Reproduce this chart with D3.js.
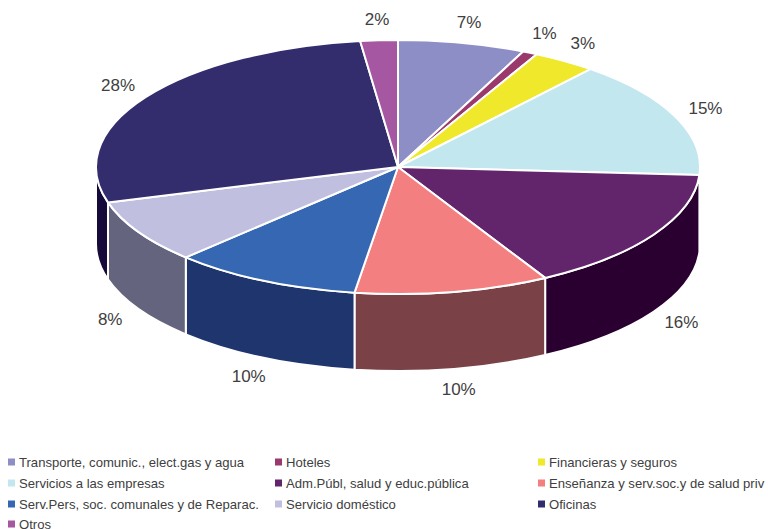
<!DOCTYPE html>
<html>
<head>
<meta charset="utf-8">
<script src="https://cdn.jsdelivr.net/npm/d3@7"></script>
<style>
  body { margin: 0; background: #fff; }
  text { font-family: "Liberation Sans", Arial, sans-serif; fill: #404040; }
</style>
</head>
<body>
<svg id="chart"></svg>
<script>
var width = 768, height = 529

// data
var categories = [
  "Transporte, comunic., elect.gas y agua",
  "Hoteles",
  "Financieras y seguros",
  "Servicios a las empresas",
  "Adm.Públ, salud y educ.pública",
  "Enseñanza y serv.soc.y de salud priv",
  "Serv.Pers, soc. comunales y de Reparac.",
  "Servicio doméstico",
  "Oficinas",
  "Otros"
]
var values = [6.8, 0.8, 3.4, 15.0, 15.9, 10.4, 10.1, 8.1, 27.5, 2.0]
var labels = ["7%", "1%", "3%", "15%", "16%", "10%", "10%", "8%", "28%", "2%"]
var topColors = ["#8E8EC7", "#9A3A6C", "#F0E82A", "#C3E7EF", "#62246B",
                 "#F47F80", "#3567B2", "#C0BFDF", "#332D6E", "#A657A1"]
var sideColors = ["#4E4E70", "#55203C", "#858017", "#6C8186", "#2A0030",
                  "#7A4246", "#1F356D", "#64647F", "#150A3A", "#5C305A"]

var cx = 398, cy = 167, rx = 302, ry = 127, depth = 77
var lrx = 335, lry = 148

var svg = d3.select("#chart")
    .attr("width", width)
    .attr("height", height)

var pie = d3.pie().sort(null).value(function(d) { return d })
var arcs = pie(values)

function pt(a, dy) {
    return [cx + rx * Math.sin(a), cy - ry * Math.cos(a) + (dy || 0)]
}

// side walls (front half only: 90deg .. 270deg)
var lo = Math.PI / 2, hi = 3 * Math.PI / 2
var g = svg.append("g")
g.selectAll("path.side")
    .data(arcs.filter(function(d) { return d.endAngle > lo && d.startAngle < hi }))
    .enter()
    .append("path")
        .attr("class", "side")
        .attr("d", function(d) {
            var s = Math.max(d.startAngle, lo), e = Math.min(d.endAngle, hi)
            var p0 = pt(s), p1 = pt(e), p2 = pt(e, depth), p3 = pt(s, depth)
            return "M" + p0 + "A" + rx + "," + ry + " 0 0 1 " + p1 +
                "L" + p2 + "A" + rx + "," + ry + " 0 0 0 " + p3 + "Z"
        })
        .attr("fill", function(d) { return sideColors[d.index] })
        .attr("stroke", "#fff")
        .attr("stroke-width", 2)

// top faces
g.selectAll("path.top")
    .data(arcs)
    .enter()
    .append("path")
        .attr("class", "top")
        .attr("d", function(d) {
            var p0 = pt(d.startAngle), p1 = pt(d.endAngle)
            var large = (d.endAngle - d.startAngle) > Math.PI ? 1 : 0
            return "M" + [cx, cy] + "L" + p0 + "A" + rx + "," + ry + " 0 " + large + " 1 " + p1 + "Z"
        })
        .attr("fill", function(d) { return topColors[d.index] })
        .attr("stroke", "#fff")
        .attr("stroke-width", 2)
        .attr("stroke-linejoin", "round")

// percent labels
g.selectAll("text.lbl")
    .data(arcs)
    .enter()
    .append("text")
        .attr("class", "lbl")
        .attr("x", function(d) {
            var m = (d.startAngle + d.endAngle) / 2
            return cx + lrx * Math.sin(m)
        })
        .attr("y", function(d) {
            var m = (d.startAngle + d.endAngle) / 2
            var y = cy - lry * Math.cos(m)
            if (Math.cos(m) < 0) y += depth
            return y
        })
        .attr("text-anchor", "middle")
        .attr("dominant-baseline", "central")
        .style("font-size", "17px")
        .text(function(d) { return labels[d.index] })

// legend
var colX = [8, 275, 538], rowY = [462, 483, 504, 524]
var leg = svg.append("g").selectAll("g")
    .data(categories)
    .enter()
    .append("g")
        .attr("transform", function(d, i) {
            return "translate(" + colX[i % 3] + "," + rowY[Math.floor(i / 3)] + ")"
        })
leg.append("rect")
    .attr("x", 0).attr("y", -3.5)
    .attr("width", 7).attr("height", 7)
    .attr("fill", function(d, i) { return topColors[i] })
leg.append("text")
    .attr("x", 11)
    .attr("dominant-baseline", "central")
    .style("font-size", "13.1px")
    .text(function(d) { return d })
</script>
</body>
</html>
